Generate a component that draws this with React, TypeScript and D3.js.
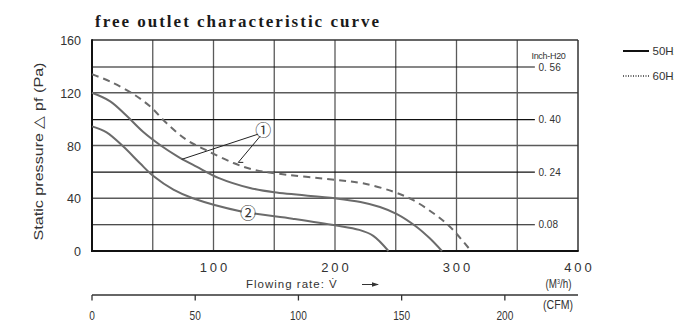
import * as d3 from 'd3';

// flow (m3/h) vs static pressure (Pa)
const curve50a: [number, number][] = [[0, 120], [15, 113.5], [28.5, 102.5], [42, 90.4], [56, 80.4], [70, 72], [86, 64], [104, 55.5], [130, 47.8], [150, 44.5], [200, 40], [221, 37.2], [237, 33.4], [251, 28], [267, 18.4], [278, 9.6], [288, 0]];
const curve50b: [number, number][] = [[0, 94.5], [12, 90], [26, 79], [39.5, 66.5], [50.5, 56.8], [67, 46.5], [83, 40], [123, 30], [165, 24.5], [200, 19.5], [220, 16], [231.5, 11.5], [244, 0]];
const curve60a: [number, number][] = [[0, 134], [15, 128.5], [34, 119], [48, 109.5], [61.5, 96.8], [78, 84.2], [94.4, 76.2], [117, 66.5], [134, 61.4], [150, 59], [200, 54], [223, 51.3], [248, 45], [264, 38.7], [281, 28.6], [294.6, 18.4], [312, 0]];

const pressureTicks = [0, 40, 80, 120, 160];
const flowTicks = [100, 200, 300, 400];
const cfmTicks = [0, 50, 100, 150, 200];
const inchTicks = [0.56, 0.40, 0.24, 0.08];
const inchLabels = ['0. 56', '0. 40', '0. 24', '0.08'];

// annotation anchors (data coords)
const mark1: [number, number] = [141, 91.7];
const mark1Targets: [number, number][] = [[73.8, 69.5], [120.4, 67.2]];
const mark2: [number, number] = [128.4, 28.6];

const W = 674;
const H = 324;
const left = 92, right = 578, top = 40, bottom = 251;

export default function App() {
  const x = d3.scaleLinear().domain([0, 400]).range([left, right]);
  const y = d3.scaleLinear().domain([0, 160]).range([bottom, top]);
  const xCfm = d3.scaleLinear().domain([0, 400 / 1.699]).range([left, right]);
  const pa = (inch: number) => inch * 249.09;

  const line = d3.line<[number, number]>()
    .x(d => x(d[0]))
    .y(d => y(d[1]))
    .curve(d3.curveCatmullRom.alpha(0.5));

  const gridGrey = '#5a5a5a';
  const curveGrey = '#6b6b6b';
  const font = 'Arial, "Liberation Sans", sans-serif';

  return (
    <div style={{ position: 'fixed', left: 0, top: 0 }}>
      <svg width={W} height={H} style={{ display: 'block', background: '#fff' }}>
        {/* title */}
        <text x={95} y={27} fontFamily='"Liberation Serif", "DejaVu Serif", serif' fontWeight="bold"
          fontSize={17} fill="#1a1a1a" textLength={284} lengthAdjust="spacing">
          free outlet characteristic curve
        </text>

        {/* vertical grid */}
        {d3.range(50, 400, 50).map(v => (
          <line key={'v' + v} x1={x(v)} x2={x(v)} y1={top} y2={bottom} stroke={gridGrey} strokeWidth={1.3} />
        ))}
        {/* horizontal grid (Pa) */}
        {[40, 80, 120].map(v => (
          <line key={'h' + v} x1={left} x2={right} y1={y(v)} y2={y(v)} stroke={gridGrey} strokeWidth={1.3} />
        ))}
        {/* inch-H2O reference lines */}
        {inchTicks.map((v, i) => (
          <g key={'in' + v}>
            <line x1={left} x2={x(364.5)} y1={y(pa(v))} y2={y(pa(v))} stroke="#111" strokeWidth={1.1} />
            <text x={x(367.5)} y={y(pa(v))} dy="0.36em" fontFamily={font} fontSize={10} fill="#333">{inchLabels[i]}</text>
          </g>
        ))}
        <text x={548.5} y={59} textAnchor="middle" fontFamily={font} fontSize={9} fill="#333" letterSpacing={-0.3}>Inch-H20</text>

        {/* frame */}
        <line x1={left} x2={right} y1={top} y2={top} stroke="#333" strokeWidth={1.5} />
        <line x1={right} x2={right} y1={top} y2={bottom} stroke="#333" strokeWidth={1.5} />
        <line x1={left} x2={left} y1={top - 0.7} y2={bottom + 1} stroke="#111" strokeWidth={2} />
        <line x1={left - 1} x2={right + 0.7} y1={bottom} y2={bottom} stroke="#111" strokeWidth={2} />

        {/* curves */}
        <path d={line(curve50a) ?? ''} fill="none" stroke={curveGrey} strokeWidth={2} />
        <path d={line(curve50b) ?? ''} fill="none" stroke={curveGrey} strokeWidth={2} />
        <path d={line(curve60a) ?? ''} fill="none" stroke={curveGrey} strokeWidth={2} strokeDasharray="7,5" />

        {/* annotations */}
        {mark1Targets.map((t, i) => (
          <line key={'a' + i} x1={x(mark1[0]) - 5 + i * 2} y1={y(mark1[1]) + 4 + i * 2} x2={x(t[0])} y2={y(t[1])}
            stroke="#222" strokeWidth={1} />
        ))}
        <line x1={x(mark1Targets[1][0])} x2={x(mark1Targets[1][0]) + 5} y1={y(mark1Targets[1][1])} y2={y(mark1Targets[1][1])} stroke="#222" strokeWidth={1} />
        <circle cx={x(mark1[0])} cy={y(mark1[1])} r={6.5} fill="#fff" />
        <text x={x(mark1[0])} y={y(mark1[1])} dy="0.36em" textAnchor="middle"
          fontFamily='"Noto Sans CJK JP", sans-serif' fontSize={16} fill="#333">①</text>
        <circle cx={x(mark2[0])} cy={y(mark2[1])} r={6.5} fill="#fff" />
        <text x={x(mark2[0])} y={y(mark2[1])} dy="0.36em" textAnchor="middle"
          fontFamily='"Noto Sans CJK JP", sans-serif' fontSize={16} fill="#333">②</text>

        {/* y axis labels */}
        {pressureTicks.map(v => (
          <text key={'yt' + v} x={81} y={y(v)} dy="0.4em" textAnchor="end" fontFamily={font} fontSize={12.5} fill="#333">{v}</text>
        ))}
        <text transform={`translate(43,151.5) rotate(-90)`} textAnchor="middle" fontFamily={font} fontSize={13.5}
          fill="#333" textLength={178} lengthAdjust="spacingAndGlyphs">
          Static pressure △ pf (Pa)
        </text>

        {/* flow axis labels */}
        {flowTicks.map(v => (
          <text key={'xt' + v} x={x(v) + 1.5} y={272} textAnchor="middle" fontFamily={font} fontSize={13}
            letterSpacing={3} fill="#333">{v}</text>
        ))}
        <text x={246} y={288} fontFamily={font} fontSize={11.5} letterSpacing={1} fill="#333">Flowing rate: V̇</text>
        <line x1={362} x2={378} y1={284.5} y2={284.5} stroke="#333" strokeWidth={1} />
        <path d="M379,284.5 L372,282.3 L372,286.7 Z" fill="#333" />
        <text x={558.5} y={288.5} textAnchor="middle" fontFamily={font} fontSize={12} fill="#333"
          transform="translate(558.5,0) scale(0.82,1) translate(-558.5,0)">
          (M<tspan dy={-4.5} fontSize={6.5}>3</tspan><tspan dy={4.5}>/h)</tspan>
        </text>

        {/* CFM axis */}
        <line x1={left} x2={right} y1={295} y2={295} stroke="#333" strokeWidth={1.3} />
        {cfmTicks.map(v => (
          <g key={'c' + v}>
            <line x1={xCfm(v)} x2={xCfm(v)} y1={295} y2={300.5} stroke="#333" strokeWidth={1.3} />
            <text x={xCfm(v)} y={320.5} textAnchor="middle" fontFamily={font} fontSize={13.5} fill="#333"
              transform={`translate(${xCfm(v)},0) scale(0.75,1) translate(${-xCfm(v)},0)`}>{v}</text>
          </g>
        ))}
        <text x={558} y={309.5} textAnchor="middle" fontFamily={font} fontSize={12} fill="#333"
          transform="translate(558,0) scale(0.88,1) translate(-558,0)">(CFM)</text>

        {/* legend */}
        <line x1={623} x2={649} y1={51} y2={51} stroke="#111" strokeWidth={2} />
        <text x={652.5} y={55} fontFamily={font} fontSize={11.5} fill="#333">50Hz</text>
        <line x1={623} x2={649} y1={76} y2={76} stroke="#333" strokeWidth={1.3} strokeDasharray="1,1.5" />
        <text x={652.5} y={80} fontFamily={font} fontSize={11.5} fill="#333">60Hz</text>
      </svg>
    </div>
  );
}
